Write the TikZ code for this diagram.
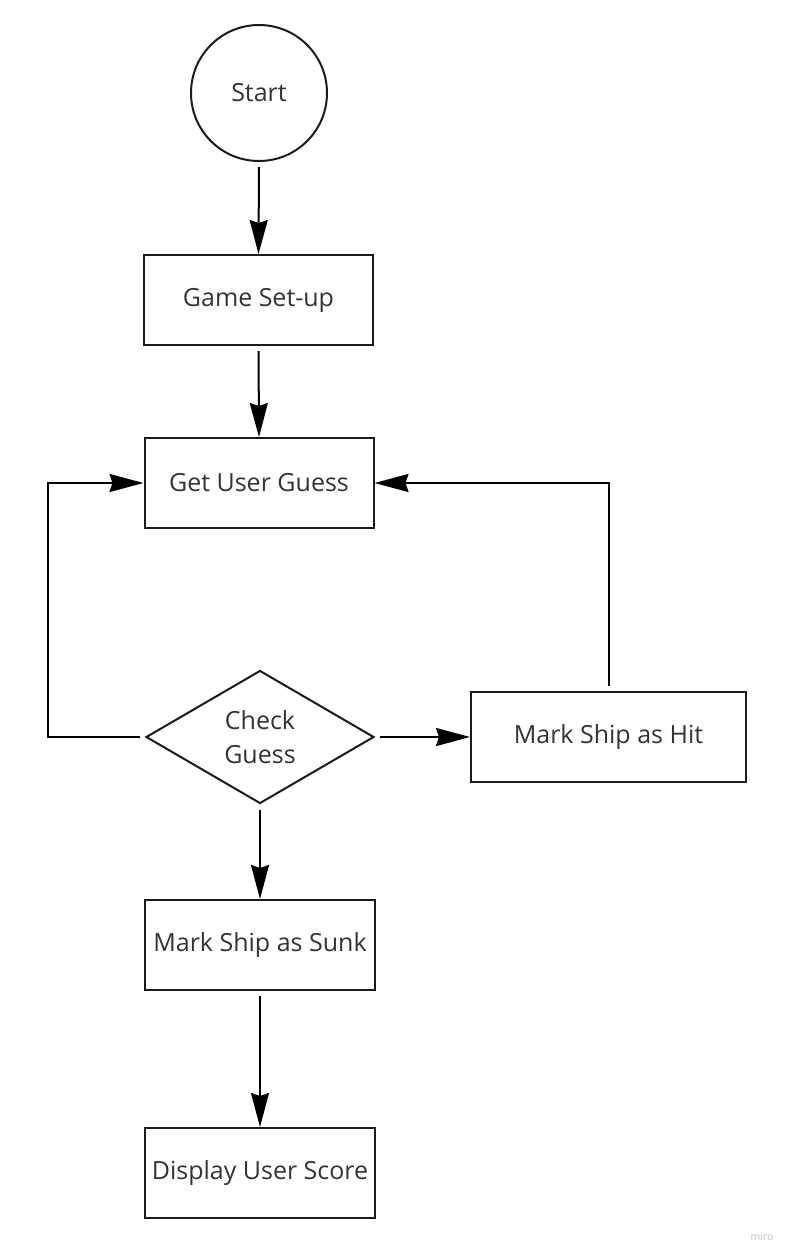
\documentclass[tikz,border=0pt]{standalone}
\usepackage{fontspec}
\setmainfont{Open Sans}
\usetikzlibrary{shapes.geometric,arrows.meta}
\definecolor{txt}{HTML}{333333}
\definecolor{edge}{HTML}{1A1A1A}
\begin{document}
\begin{tikzpicture}[x=1pt,y=-1pt,
  every node/.style={font=\fontsize{25}{34}\selectfont, text=txt},
  box/.style={draw=edge, line width=2pt, rectangle, minimum width=229pt, minimum height=90pt, inner sep=0pt, align=center},
  conn/.style={draw=black, line width=2pt, -{Stealth[length=34pt, width=18pt, inset=3pt]}, shorten <=5pt},
  plain/.style={draw=black, line width=2pt}]
\useasboundingbox (0,0) rectangle (794,1259);
\node[circle, draw=edge, line width=2pt, minimum size=136pt, inner sep=0pt] (start) at (259,93) {Start};
\node[box] (setup) at (258.5,300) {Game Set-up};
\node[box] (guess) at (259,483) {Get User Guess};
\node[diamond, draw=edge, line width=2pt, minimum width=228pt, minimum height=133pt, inner sep=0pt, align=center] (check) at (260,737) {Check\\Guess};
\node[box, minimum width=275pt] (hit) at (608.5,737) {Mark Ship as Hit};
\node[box, minimum width=230pt] (sunk) at (260,945) {Mark Ship as Sunk};
\node[box, minimum width=230pt] (score) at (260,1173) {Display User Score};
\node[font=\fontsize{10.5}{10.5}\selectfont, text=black!25] (miro) at (762,1237) {miro};
\coordinate (lc) at (48,737);
\coordinate (lt) at (48,483);
\coordinate (rt) at (608.5,483);
\draw[conn] (start.south) -- (setup.north);
\draw[conn] (setup.south) -- (guess.north);
\draw[conn] (check.south) -- (sunk.north);
\draw[conn] (sunk.south) -- (score.north);
\draw[conn] (check.east) -- (hit.west);
\draw[conn] (check.west) -- (lc) -- (lt) -- (guess.west);
\draw[conn] (hit.north) -- (rt) -- (guess.east);
\end{tikzpicture}
\end{document}
